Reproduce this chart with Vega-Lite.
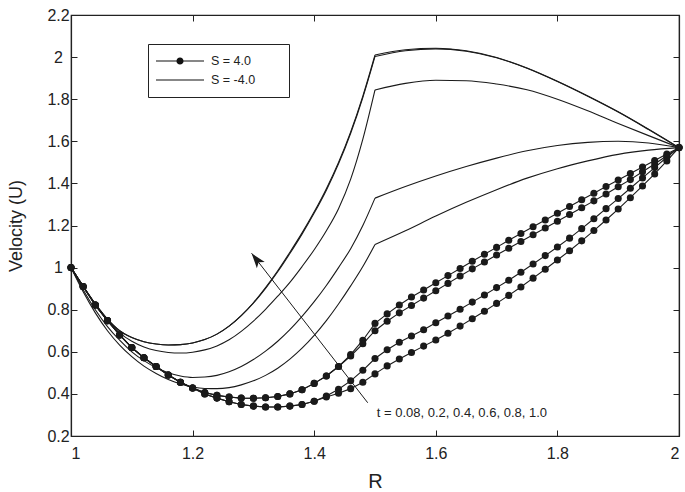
{
  "$schema": "https://vega.github.io/schema/vega-lite/v6.json",
  "width": 608,
  "height": 421,
  "autosize": {"type": "none"},
  "padding": {"left": 71, "top": 15, "right": 6, "bottom": 56},
  "background": "white",
  "config": {
    "font": "Liberation Sans",
    "view": {"stroke": "#222", "strokeWidth": 1.2},
    "axis": {"grid": false, "domainColor": "#222", "tickColor": "#222", "labelColor": "#222", "titleColor": "#222", "labelFont": "Liberation Sans", "titleFont": "Liberation Sans", "titleFontWeight": "normal", "domainWidth": 1.2, "tickWidth": 1}
  },
  "data": {"values": [
    {"s":"S = -4.0","c":"P1","g":"a","R":1.00,"U":1.0},{"s":"S = -4.0","c":"P1","g":"a","R":1.02,"U":0.912},{"s":"S = -4.0","c":"P1","g":"a","R":1.04,"U":0.828},{"s":"S = -4.0","c":"P1","g":"a","R":1.06,"U":0.755},{"s":"S = -4.0","c":"P1","g":"a","R":1.08,"U":0.70},{"s":"S = -4.0","c":"P1","g":"a","R":1.10,"U":0.668},{"s":"S = -4.0","c":"P1","g":"a","R":1.12,"U":0.648},{"s":"S = -4.0","c":"P1","g":"a","R":1.14,"U":0.637},{"s":"S = -4.0","c":"P1","g":"a","R":1.16,"U":0.632},{"s":"S = -4.0","c":"P1","g":"a","R":1.18,"U":0.634},{"s":"S = -4.0","c":"P1","g":"a","R":1.20,"U":0.642},{"s":"S = -4.0","c":"P1","g":"a","R":1.22,"U":0.658},{"s":"S = -4.0","c":"P1","g":"a","R":1.24,"U":0.684},{"s":"S = -4.0","c":"P1","g":"a","R":1.26,"U":0.722},{"s":"S = -4.0","c":"P1","g":"a","R":1.28,"U":0.772},{"s":"S = -4.0","c":"P1","g":"a","R":1.30,"U":0.833},{"s":"S = -4.0","c":"P1","g":"a","R":1.32,"U":0.905},{"s":"S = -4.0","c":"P1","g":"a","R":1.34,"U":0.985},{"s":"S = -4.0","c":"P1","g":"a","R":1.36,"U":1.073},{"s":"S = -4.0","c":"P1","g":"a","R":1.38,"U":1.165},{"s":"S = -4.0","c":"P1","g":"a","R":1.40,"U":1.265},{"s":"S = -4.0","c":"P1","g":"a","R":1.42,"U":1.375},{"s":"S = -4.0","c":"P1","g":"a","R":1.44,"U":1.50},{"s":"S = -4.0","c":"P1","g":"a","R":1.46,"U":1.645},{"s":"S = -4.0","c":"P1","g":"a","R":1.48,"U":1.815},{"s":"S = -4.0","c":"P1","g":"a","R":1.50,"U":2.01},
    {"s":"S = -4.0","c":"P1","g":"b","R":1.50,"U":2.01},{"s":"S = -4.0","c":"P1","g":"b","R":1.55,"U":2.035},{"s":"S = -4.0","c":"P1","g":"b","R":1.60,"U":2.042},{"s":"S = -4.0","c":"P1","g":"b","R":1.65,"U":2.03},{"s":"S = -4.0","c":"P1","g":"b","R":1.70,"U":1.998},{"s":"S = -4.0","c":"P1","g":"b","R":1.75,"U":1.948},{"s":"S = -4.0","c":"P1","g":"b","R":1.80,"U":1.885},{"s":"S = -4.0","c":"P1","g":"b","R":1.85,"U":1.815},{"s":"S = -4.0","c":"P1","g":"b","R":1.90,"U":1.74},{"s":"S = -4.0","c":"P1","g":"b","R":1.95,"U":1.657},{"s":"S = -4.0","c":"P1","g":"b","R":2.00,"U":1.57},

    {"s":"S = -4.0","c":"P1b","g":"a","R":1.00,"U":1.0},{"s":"S = -4.0","c":"P1b","g":"a","R":1.02,"U":0.912},{"s":"S = -4.0","c":"P1b","g":"a","R":1.04,"U":0.828},{"s":"S = -4.0","c":"P1b","g":"a","R":1.06,"U":0.755},{"s":"S = -4.0","c":"P1b","g":"a","R":1.08,"U":0.70},{"s":"S = -4.0","c":"P1b","g":"a","R":1.10,"U":0.668},{"s":"S = -4.0","c":"P1b","g":"a","R":1.12,"U":0.648},{"s":"S = -4.0","c":"P1b","g":"a","R":1.14,"U":0.637},{"s":"S = -4.0","c":"P1b","g":"a","R":1.16,"U":0.632},{"s":"S = -4.0","c":"P1b","g":"a","R":1.18,"U":0.634},{"s":"S = -4.0","c":"P1b","g":"a","R":1.20,"U":0.642},{"s":"S = -4.0","c":"P1b","g":"a","R":1.22,"U":0.658},{"s":"S = -4.0","c":"P1b","g":"a","R":1.24,"U":0.684},{"s":"S = -4.0","c":"P1b","g":"a","R":1.26,"U":0.722},{"s":"S = -4.0","c":"P1b","g":"a","R":1.28,"U":0.772},{"s":"S = -4.0","c":"P1b","g":"a","R":1.30,"U":0.831},{"s":"S = -4.0","c":"P1b","g":"a","R":1.32,"U":0.901},{"s":"S = -4.0","c":"P1b","g":"a","R":1.34,"U":0.98},{"s":"S = -4.0","c":"P1b","g":"a","R":1.36,"U":1.067},{"s":"S = -4.0","c":"P1b","g":"a","R":1.38,"U":1.159},{"s":"S = -4.0","c":"P1b","g":"a","R":1.40,"U":1.259},{"s":"S = -4.0","c":"P1b","g":"a","R":1.42,"U":1.368},{"s":"S = -4.0","c":"P1b","g":"a","R":1.44,"U":1.493},{"s":"S = -4.0","c":"P1b","g":"a","R":1.46,"U":1.638},{"s":"S = -4.0","c":"P1b","g":"a","R":1.48,"U":1.808},{"s":"S = -4.0","c":"P1b","g":"a","R":1.50,"U":2.003},
    {"s":"S = -4.0","c":"P1b","g":"b","R":1.50,"U":2.003},{"s":"S = -4.0","c":"P1b","g":"b","R":1.55,"U":2.03},{"s":"S = -4.0","c":"P1b","g":"b","R":1.60,"U":2.039},{"s":"S = -4.0","c":"P1b","g":"b","R":1.65,"U":2.028},{"s":"S = -4.0","c":"P1b","g":"b","R":1.70,"U":1.997},{"s":"S = -4.0","c":"P1b","g":"b","R":1.75,"U":1.947},{"s":"S = -4.0","c":"P1b","g":"b","R":1.80,"U":1.884},{"s":"S = -4.0","c":"P1b","g":"b","R":1.85,"U":1.814},{"s":"S = -4.0","c":"P1b","g":"b","R":1.90,"U":1.739},{"s":"S = -4.0","c":"P1b","g":"b","R":1.95,"U":1.656},{"s":"S = -4.0","c":"P1b","g":"b","R":2.00,"U":1.57},

    {"s":"S = -4.0","c":"P2","g":"a","R":1.00,"U":1.0},{"s":"S = -4.0","c":"P2","g":"a","R":1.02,"U":0.91},{"s":"S = -4.0","c":"P2","g":"a","R":1.04,"U":0.825},{"s":"S = -4.0","c":"P2","g":"a","R":1.06,"U":0.75},{"s":"S = -4.0","c":"P2","g":"a","R":1.08,"U":0.69},{"s":"S = -4.0","c":"P2","g":"a","R":1.10,"U":0.65},{"s":"S = -4.0","c":"P2","g":"a","R":1.12,"U":0.623},{"s":"S = -4.0","c":"P2","g":"a","R":1.14,"U":0.606},{"s":"S = -4.0","c":"P2","g":"a","R":1.16,"U":0.597},{"s":"S = -4.0","c":"P2","g":"a","R":1.18,"U":0.594},{"s":"S = -4.0","c":"P2","g":"a","R":1.20,"U":0.598},{"s":"S = -4.0","c":"P2","g":"a","R":1.22,"U":0.609},{"s":"S = -4.0","c":"P2","g":"a","R":1.24,"U":0.628},{"s":"S = -4.0","c":"P2","g":"a","R":1.26,"U":0.657},{"s":"S = -4.0","c":"P2","g":"a","R":1.28,"U":0.697},{"s":"S = -4.0","c":"P2","g":"a","R":1.30,"U":0.746},{"s":"S = -4.0","c":"P2","g":"a","R":1.32,"U":0.802},{"s":"S = -4.0","c":"P2","g":"a","R":1.34,"U":0.864},{"s":"S = -4.0","c":"P2","g":"a","R":1.36,"U":0.93},{"s":"S = -4.0","c":"P2","g":"a","R":1.38,"U":1.005},{"s":"S = -4.0","c":"P2","g":"a","R":1.40,"U":1.085},{"s":"S = -4.0","c":"P2","g":"a","R":1.42,"U":1.175},{"s":"S = -4.0","c":"P2","g":"a","R":1.44,"U":1.28},{"s":"S = -4.0","c":"P2","g":"a","R":1.46,"U":1.42},{"s":"S = -4.0","c":"P2","g":"a","R":1.48,"U":1.61},{"s":"S = -4.0","c":"P2","g":"a","R":1.50,"U":1.844},
    {"s":"S = -4.0","c":"P2","g":"b","R":1.50,"U":1.844},{"s":"S = -4.0","c":"P2","g":"b","R":1.55,"U":1.875},{"s":"S = -4.0","c":"P2","g":"b","R":1.60,"U":1.89},{"s":"S = -4.0","c":"P2","g":"b","R":1.65,"U":1.888},{"s":"S = -4.0","c":"P2","g":"b","R":1.70,"U":1.872},{"s":"S = -4.0","c":"P2","g":"b","R":1.75,"U":1.845},{"s":"S = -4.0","c":"P2","g":"b","R":1.80,"U":1.80},{"s":"S = -4.0","c":"P2","g":"b","R":1.85,"U":1.745},{"s":"S = -4.0","c":"P2","g":"b","R":1.90,"U":1.685},{"s":"S = -4.0","c":"P2","g":"b","R":1.95,"U":1.627},{"s":"S = -4.0","c":"P2","g":"b","R":2.00,"U":1.57},

    {"s":"S = -4.0","c":"P3","g":"a","R":1.00,"U":1.0},{"s":"S = -4.0","c":"P3","g":"a","R":1.02,"U":0.895},{"s":"S = -4.0","c":"P3","g":"a","R":1.04,"U":0.80},{"s":"S = -4.0","c":"P3","g":"a","R":1.06,"U":0.72},{"s":"S = -4.0","c":"P3","g":"a","R":1.08,"U":0.655},{"s":"S = -4.0","c":"P3","g":"a","R":1.10,"U":0.60},{"s":"S = -4.0","c":"P3","g":"a","R":1.12,"U":0.558},{"s":"S = -4.0","c":"P3","g":"a","R":1.14,"U":0.525},{"s":"S = -4.0","c":"P3","g":"a","R":1.16,"U":0.50},{"s":"S = -4.0","c":"P3","g":"a","R":1.18,"U":0.485},{"s":"S = -4.0","c":"P3","g":"a","R":1.20,"U":0.478},{"s":"S = -4.0","c":"P3","g":"a","R":1.22,"U":0.48},{"s":"S = -4.0","c":"P3","g":"a","R":1.24,"U":0.488},{"s":"S = -4.0","c":"P3","g":"a","R":1.26,"U":0.505},{"s":"S = -4.0","c":"P3","g":"a","R":1.28,"U":0.53},{"s":"S = -4.0","c":"P3","g":"a","R":1.30,"U":0.563},{"s":"S = -4.0","c":"P3","g":"a","R":1.32,"U":0.603},{"s":"S = -4.0","c":"P3","g":"a","R":1.34,"U":0.65},{"s":"S = -4.0","c":"P3","g":"a","R":1.36,"U":0.705},{"s":"S = -4.0","c":"P3","g":"a","R":1.38,"U":0.768},{"s":"S = -4.0","c":"P3","g":"a","R":1.40,"U":0.838},{"s":"S = -4.0","c":"P3","g":"a","R":1.42,"U":0.915},{"s":"S = -4.0","c":"P3","g":"a","R":1.44,"U":1.0},{"s":"S = -4.0","c":"P3","g":"a","R":1.46,"U":1.09},{"s":"S = -4.0","c":"P3","g":"a","R":1.48,"U":1.20},{"s":"S = -4.0","c":"P3","g":"a","R":1.50,"U":1.33},
    {"s":"S = -4.0","c":"P3","g":"b","R":1.50,"U":1.33},{"s":"S = -4.0","c":"P3","g":"b","R":1.55,"U":1.385},{"s":"S = -4.0","c":"P3","g":"b","R":1.60,"U":1.435},{"s":"S = -4.0","c":"P3","g":"b","R":1.65,"U":1.48},{"s":"S = -4.0","c":"P3","g":"b","R":1.70,"U":1.52},{"s":"S = -4.0","c":"P3","g":"b","R":1.75,"U":1.555},{"s":"S = -4.0","c":"P3","g":"b","R":1.80,"U":1.58},{"s":"S = -4.0","c":"P3","g":"b","R":1.85,"U":1.595},{"s":"S = -4.0","c":"P3","g":"b","R":1.90,"U":1.60},{"s":"S = -4.0","c":"P3","g":"b","R":1.95,"U":1.592},{"s":"S = -4.0","c":"P3","g":"b","R":2.00,"U":1.57},

    {"s":"S = -4.0","c":"P4","g":"a","R":1.00,"U":1.0},{"s":"S = -4.0","c":"P4","g":"a","R":1.02,"U":0.885},{"s":"S = -4.0","c":"P4","g":"a","R":1.04,"U":0.785},{"s":"S = -4.0","c":"P4","g":"a","R":1.06,"U":0.70},{"s":"S = -4.0","c":"P4","g":"a","R":1.08,"U":0.632},{"s":"S = -4.0","c":"P4","g":"a","R":1.10,"U":0.577},{"s":"S = -4.0","c":"P4","g":"a","R":1.12,"U":0.532},{"s":"S = -4.0","c":"P4","g":"a","R":1.14,"U":0.497},{"s":"S = -4.0","c":"P4","g":"a","R":1.16,"U":0.468},{"s":"S = -4.0","c":"P4","g":"a","R":1.18,"U":0.447},{"s":"S = -4.0","c":"P4","g":"a","R":1.20,"U":0.433},{"s":"S = -4.0","c":"P4","g":"a","R":1.22,"U":0.426},{"s":"S = -4.0","c":"P4","g":"a","R":1.24,"U":0.425},{"s":"S = -4.0","c":"P4","g":"a","R":1.26,"U":0.43},{"s":"S = -4.0","c":"P4","g":"a","R":1.28,"U":0.443},{"s":"S = -4.0","c":"P4","g":"a","R":1.30,"U":0.462},{"s":"S = -4.0","c":"P4","g":"a","R":1.32,"U":0.488},{"s":"S = -4.0","c":"P4","g":"a","R":1.34,"U":0.522},{"s":"S = -4.0","c":"P4","g":"a","R":1.36,"U":0.565},{"s":"S = -4.0","c":"P4","g":"a","R":1.38,"U":0.617},{"s":"S = -4.0","c":"P4","g":"a","R":1.40,"U":0.678},{"s":"S = -4.0","c":"P4","g":"a","R":1.42,"U":0.748},{"s":"S = -4.0","c":"P4","g":"a","R":1.44,"U":0.827},{"s":"S = -4.0","c":"P4","g":"a","R":1.46,"U":0.913},{"s":"S = -4.0","c":"P4","g":"a","R":1.48,"U":1.005},{"s":"S = -4.0","c":"P4","g":"a","R":1.50,"U":1.11},
    {"s":"S = -4.0","c":"P4","g":"b","R":1.50,"U":1.11},{"s":"S = -4.0","c":"P4","g":"b","R":1.55,"U":1.175},{"s":"S = -4.0","c":"P4","g":"b","R":1.60,"U":1.245},{"s":"S = -4.0","c":"P4","g":"b","R":1.65,"U":1.31},{"s":"S = -4.0","c":"P4","g":"b","R":1.70,"U":1.37},{"s":"S = -4.0","c":"P4","g":"b","R":1.75,"U":1.425},{"s":"S = -4.0","c":"P4","g":"b","R":1.80,"U":1.47},{"s":"S = -4.0","c":"P4","g":"b","R":1.85,"U":1.507},{"s":"S = -4.0","c":"P4","g":"b","R":1.90,"U":1.538},{"s":"S = -4.0","c":"P4","g":"b","R":1.95,"U":1.558},{"s":"S = -4.0","c":"P4","g":"b","R":2.00,"U":1.57},

    {"s":"S = 4.0","c":"D1","g":"a","R":1.00,"U":1.0},{"s":"S = 4.0","c":"D1","g":"a","R":1.02,"U":0.91},{"s":"S = 4.0","c":"D1","g":"a","R":1.04,"U":0.822},{"s":"S = 4.0","c":"D1","g":"a","R":1.06,"U":0.748},{"s":"S = 4.0","c":"D1","g":"a","R":1.08,"U":0.68},{"s":"S = 4.0","c":"D1","g":"a","R":1.10,"U":0.62},{"s":"S = 4.0","c":"D1","g":"a","R":1.12,"U":0.572},{"s":"S = 4.0","c":"D1","g":"a","R":1.14,"U":0.53},{"s":"S = 4.0","c":"D1","g":"a","R":1.16,"U":0.49},{"s":"S = 4.0","c":"D1","g":"a","R":1.18,"U":0.455},{"s":"S = 4.0","c":"D1","g":"a","R":1.20,"U":0.428},{"s":"S = 4.0","c":"D1","g":"a","R":1.22,"U":0.407},{"s":"S = 4.0","c":"D1","g":"a","R":1.24,"U":0.393},{"s":"S = 4.0","c":"D1","g":"a","R":1.26,"U":0.385},{"s":"S = 4.0","c":"D1","g":"a","R":1.28,"U":0.38},{"s":"S = 4.0","c":"D1","g":"a","R":1.30,"U":0.379},{"s":"S = 4.0","c":"D1","g":"a","R":1.32,"U":0.382},{"s":"S = 4.0","c":"D1","g":"a","R":1.34,"U":0.388},{"s":"S = 4.0","c":"D1","g":"a","R":1.36,"U":0.40},{"s":"S = 4.0","c":"D1","g":"a","R":1.38,"U":0.42},{"s":"S = 4.0","c":"D1","g":"a","R":1.40,"U":0.45},{"s":"S = 4.0","c":"D1","g":"a","R":1.42,"U":0.485},{"s":"S = 4.0","c":"D1","g":"a","R":1.44,"U":0.53},{"s":"S = 4.0","c":"D1","g":"a","R":1.46,"U":0.587},{"s":"S = 4.0","c":"D1","g":"a","R":1.48,"U":0.655},{"s":"S = 4.0","c":"D1","g":"a","R":1.50,"U":0.735},{"s":"S = 4.0","c":"D1","g":"a","R":1.52,"U":0.78},{"s":"S = 4.0","c":"D1","g":"a","R":1.54,"U":0.822},{"s":"S = 4.0","c":"D1","g":"a","R":1.56,"U":0.86},{"s":"S = 4.0","c":"D1","g":"a","R":1.58,"U":0.894},{"s":"S = 4.0","c":"D1","g":"a","R":1.60,"U":0.928},{"s":"S = 4.0","c":"D1","g":"a","R":1.62,"U":0.962},{"s":"S = 4.0","c":"D1","g":"a","R":1.64,"U":0.996},{"s":"S = 4.0","c":"D1","g":"a","R":1.66,"U":1.03},{"s":"S = 4.0","c":"D1","g":"a","R":1.68,"U":1.063},{"s":"S = 4.0","c":"D1","g":"a","R":1.70,"U":1.096},{"s":"S = 4.0","c":"D1","g":"a","R":1.72,"U":1.13},{"s":"S = 4.0","c":"D1","g":"a","R":1.74,"U":1.162},{"s":"S = 4.0","c":"D1","g":"a","R":1.76,"U":1.194},{"s":"S = 4.0","c":"D1","g":"a","R":1.78,"U":1.226},{"s":"S = 4.0","c":"D1","g":"a","R":1.80,"U":1.258},{"s":"S = 4.0","c":"D1","g":"a","R":1.82,"U":1.29},{"s":"S = 4.0","c":"D1","g":"a","R":1.84,"U":1.322},{"s":"S = 4.0","c":"D1","g":"a","R":1.86,"U":1.353},{"s":"S = 4.0","c":"D1","g":"a","R":1.88,"U":1.385},{"s":"S = 4.0","c":"D1","g":"a","R":1.90,"U":1.416},{"s":"S = 4.0","c":"D1","g":"a","R":1.92,"U":1.447},{"s":"S = 4.0","c":"D1","g":"a","R":1.94,"U":1.478},{"s":"S = 4.0","c":"D1","g":"a","R":1.96,"U":1.509},{"s":"S = 4.0","c":"D1","g":"a","R":1.98,"U":1.54},{"s":"S = 4.0","c":"D1","g":"a","R":2.00,"U":1.57},

    {"s":"S = 4.0","c":"D2","g":"a","R":1.00,"U":1.0},{"s":"S = 4.0","c":"D2","g":"a","R":1.02,"U":0.91},{"s":"S = 4.0","c":"D2","g":"a","R":1.04,"U":0.822},{"s":"S = 4.0","c":"D2","g":"a","R":1.06,"U":0.748},{"s":"S = 4.0","c":"D2","g":"a","R":1.08,"U":0.68},{"s":"S = 4.0","c":"D2","g":"a","R":1.10,"U":0.62},{"s":"S = 4.0","c":"D2","g":"a","R":1.12,"U":0.572},{"s":"S = 4.0","c":"D2","g":"a","R":1.14,"U":0.53},{"s":"S = 4.0","c":"D2","g":"a","R":1.16,"U":0.49},{"s":"S = 4.0","c":"D2","g":"a","R":1.18,"U":0.455},{"s":"S = 4.0","c":"D2","g":"a","R":1.20,"U":0.428},{"s":"S = 4.0","c":"D2","g":"a","R":1.22,"U":0.407},{"s":"S = 4.0","c":"D2","g":"a","R":1.24,"U":0.393},{"s":"S = 4.0","c":"D2","g":"a","R":1.26,"U":0.385},{"s":"S = 4.0","c":"D2","g":"a","R":1.28,"U":0.38},{"s":"S = 4.0","c":"D2","g":"a","R":1.30,"U":0.379},{"s":"S = 4.0","c":"D2","g":"a","R":1.32,"U":0.382},{"s":"S = 4.0","c":"D2","g":"a","R":1.34,"U":0.388},{"s":"S = 4.0","c":"D2","g":"a","R":1.36,"U":0.40},{"s":"S = 4.0","c":"D2","g":"a","R":1.38,"U":0.42},{"s":"S = 4.0","c":"D2","g":"a","R":1.40,"U":0.45},{"s":"S = 4.0","c":"D2","g":"a","R":1.42,"U":0.485},{"s":"S = 4.0","c":"D2","g":"a","R":1.44,"U":0.53},{"s":"S = 4.0","c":"D2","g":"a","R":1.46,"U":0.58},{"s":"S = 4.0","c":"D2","g":"a","R":1.48,"U":0.638},{"s":"S = 4.0","c":"D2","g":"a","R":1.50,"U":0.70},{"s":"S = 4.0","c":"D2","g":"a","R":1.52,"U":0.745},{"s":"S = 4.0","c":"D2","g":"a","R":1.54,"U":0.785},{"s":"S = 4.0","c":"D2","g":"a","R":1.56,"U":0.82},{"s":"S = 4.0","c":"D2","g":"a","R":1.58,"U":0.855},{"s":"S = 4.0","c":"D2","g":"a","R":1.60,"U":0.89},{"s":"S = 4.0","c":"D2","g":"a","R":1.62,"U":0.925},{"s":"S = 4.0","c":"D2","g":"a","R":1.64,"U":0.96},{"s":"S = 4.0","c":"D2","g":"a","R":1.66,"U":0.994},{"s":"S = 4.0","c":"D2","g":"a","R":1.68,"U":1.027},{"s":"S = 4.0","c":"D2","g":"a","R":1.70,"U":1.06},{"s":"S = 4.0","c":"D2","g":"a","R":1.72,"U":1.092},{"s":"S = 4.0","c":"D2","g":"a","R":1.74,"U":1.124},{"s":"S = 4.0","c":"D2","g":"a","R":1.76,"U":1.156},{"s":"S = 4.0","c":"D2","g":"a","R":1.78,"U":1.188},{"s":"S = 4.0","c":"D2","g":"a","R":1.80,"U":1.22},{"s":"S = 4.0","c":"D2","g":"a","R":1.82,"U":1.252},{"s":"S = 4.0","c":"D2","g":"a","R":1.84,"U":1.284},{"s":"S = 4.0","c":"D2","g":"a","R":1.86,"U":1.317},{"s":"S = 4.0","c":"D2","g":"a","R":1.88,"U":1.35},{"s":"S = 4.0","c":"D2","g":"a","R":1.90,"U":1.384},{"s":"S = 4.0","c":"D2","g":"a","R":1.92,"U":1.418},{"s":"S = 4.0","c":"D2","g":"a","R":1.94,"U":1.455},{"s":"S = 4.0","c":"D2","g":"a","R":1.96,"U":1.492},{"s":"S = 4.0","c":"D2","g":"a","R":1.98,"U":1.531},{"s":"S = 4.0","c":"D2","g":"a","R":2.00,"U":1.57},

    {"s":"S = 4.0","c":"D3","g":"a","R":1.00,"U":1.0},{"s":"S = 4.0","c":"D3","g":"a","R":1.02,"U":0.91},{"s":"S = 4.0","c":"D3","g":"a","R":1.04,"U":0.822},{"s":"S = 4.0","c":"D3","g":"a","R":1.06,"U":0.748},{"s":"S = 4.0","c":"D3","g":"a","R":1.08,"U":0.68},{"s":"S = 4.0","c":"D3","g":"a","R":1.10,"U":0.62},{"s":"S = 4.0","c":"D3","g":"a","R":1.12,"U":0.572},{"s":"S = 4.0","c":"D3","g":"a","R":1.14,"U":0.53},{"s":"S = 4.0","c":"D3","g":"a","R":1.16,"U":0.49},{"s":"S = 4.0","c":"D3","g":"a","R":1.18,"U":0.455},{"s":"S = 4.0","c":"D3","g":"a","R":1.20,"U":0.428},{"s":"S = 4.0","c":"D3","g":"a","R":1.22,"U":0.40},{"s":"S = 4.0","c":"D3","g":"a","R":1.24,"U":0.38},{"s":"S = 4.0","c":"D3","g":"a","R":1.26,"U":0.363},{"s":"S = 4.0","c":"D3","g":"a","R":1.28,"U":0.35},{"s":"S = 4.0","c":"D3","g":"a","R":1.30,"U":0.342},{"s":"S = 4.0","c":"D3","g":"a","R":1.32,"U":0.338},{"s":"S = 4.0","c":"D3","g":"a","R":1.34,"U":0.338},{"s":"S = 4.0","c":"D3","g":"a","R":1.36,"U":0.342},{"s":"S = 4.0","c":"D3","g":"a","R":1.38,"U":0.35},{"s":"S = 4.0","c":"D3","g":"a","R":1.40,"U":0.365},{"s":"S = 4.0","c":"D3","g":"a","R":1.42,"U":0.39},{"s":"S = 4.0","c":"D3","g":"a","R":1.44,"U":0.422},{"s":"S = 4.0","c":"D3","g":"a","R":1.46,"U":0.462},{"s":"S = 4.0","c":"D3","g":"a","R":1.48,"U":0.512},{"s":"S = 4.0","c":"D3","g":"a","R":1.50,"U":0.568},{"s":"S = 4.0","c":"D3","g":"a","R":1.52,"U":0.61},{"s":"S = 4.0","c":"D3","g":"a","R":1.54,"U":0.645},{"s":"S = 4.0","c":"D3","g":"a","R":1.56,"U":0.675},{"s":"S = 4.0","c":"D3","g":"a","R":1.58,"U":0.705},{"s":"S = 4.0","c":"D3","g":"a","R":1.60,"U":0.738},{"s":"S = 4.0","c":"D3","g":"a","R":1.62,"U":0.77},{"s":"S = 4.0","c":"D3","g":"a","R":1.64,"U":0.802},{"s":"S = 4.0","c":"D3","g":"a","R":1.66,"U":0.836},{"s":"S = 4.0","c":"D3","g":"a","R":1.68,"U":0.87},{"s":"S = 4.0","c":"D3","g":"a","R":1.70,"U":0.905},{"s":"S = 4.0","c":"D3","g":"a","R":1.72,"U":0.94},{"s":"S = 4.0","c":"D3","g":"a","R":1.74,"U":0.978},{"s":"S = 4.0","c":"D3","g":"a","R":1.76,"U":1.017},{"s":"S = 4.0","c":"D3","g":"a","R":1.78,"U":1.057},{"s":"S = 4.0","c":"D3","g":"a","R":1.80,"U":1.098},{"s":"S = 4.0","c":"D3","g":"a","R":1.82,"U":1.14},{"s":"S = 4.0","c":"D3","g":"a","R":1.84,"U":1.185},{"s":"S = 4.0","c":"D3","g":"a","R":1.86,"U":1.232},{"s":"S = 4.0","c":"D3","g":"a","R":1.88,"U":1.28},{"s":"S = 4.0","c":"D3","g":"a","R":1.90,"U":1.328},{"s":"S = 4.0","c":"D3","g":"a","R":1.92,"U":1.377},{"s":"S = 4.0","c":"D3","g":"a","R":1.94,"U":1.426},{"s":"S = 4.0","c":"D3","g":"a","R":1.96,"U":1.475},{"s":"S = 4.0","c":"D3","g":"a","R":1.98,"U":1.524},{"s":"S = 4.0","c":"D3","g":"a","R":2.00,"U":1.57},

    {"s":"S = 4.0","c":"D4","g":"a","R":1.00,"U":1.0},{"s":"S = 4.0","c":"D4","g":"a","R":1.02,"U":0.91},{"s":"S = 4.0","c":"D4","g":"a","R":1.04,"U":0.822},{"s":"S = 4.0","c":"D4","g":"a","R":1.06,"U":0.748},{"s":"S = 4.0","c":"D4","g":"a","R":1.08,"U":0.68},{"s":"S = 4.0","c":"D4","g":"a","R":1.10,"U":0.62},{"s":"S = 4.0","c":"D4","g":"a","R":1.12,"U":0.572},{"s":"S = 4.0","c":"D4","g":"a","R":1.14,"U":0.53},{"s":"S = 4.0","c":"D4","g":"a","R":1.16,"U":0.49},{"s":"S = 4.0","c":"D4","g":"a","R":1.18,"U":0.455},{"s":"S = 4.0","c":"D4","g":"a","R":1.20,"U":0.428},{"s":"S = 4.0","c":"D4","g":"a","R":1.22,"U":0.40},{"s":"S = 4.0","c":"D4","g":"a","R":1.24,"U":0.38},{"s":"S = 4.0","c":"D4","g":"a","R":1.26,"U":0.363},{"s":"S = 4.0","c":"D4","g":"a","R":1.28,"U":0.35},{"s":"S = 4.0","c":"D4","g":"a","R":1.30,"U":0.342},{"s":"S = 4.0","c":"D4","g":"a","R":1.32,"U":0.338},{"s":"S = 4.0","c":"D4","g":"a","R":1.34,"U":0.338},{"s":"S = 4.0","c":"D4","g":"a","R":1.36,"U":0.342},{"s":"S = 4.0","c":"D4","g":"a","R":1.38,"U":0.35},{"s":"S = 4.0","c":"D4","g":"a","R":1.40,"U":0.365},{"s":"S = 4.0","c":"D4","g":"a","R":1.42,"U":0.385},{"s":"S = 4.0","c":"D4","g":"a","R":1.44,"U":0.403},{"s":"S = 4.0","c":"D4","g":"a","R":1.46,"U":0.425},{"s":"S = 4.0","c":"D4","g":"a","R":1.48,"U":0.455},{"s":"S = 4.0","c":"D4","g":"a","R":1.50,"U":0.495},{"s":"S = 4.0","c":"D4","g":"a","R":1.52,"U":0.533},{"s":"S = 4.0","c":"D4","g":"a","R":1.54,"U":0.566},{"s":"S = 4.0","c":"D4","g":"a","R":1.56,"U":0.597},{"s":"S = 4.0","c":"D4","g":"a","R":1.58,"U":0.627},{"s":"S = 4.0","c":"D4","g":"a","R":1.60,"U":0.656},{"s":"S = 4.0","c":"D4","g":"a","R":1.62,"U":0.688},{"s":"S = 4.0","c":"D4","g":"a","R":1.64,"U":0.722},{"s":"S = 4.0","c":"D4","g":"a","R":1.66,"U":0.757},{"s":"S = 4.0","c":"D4","g":"a","R":1.68,"U":0.793},{"s":"S = 4.0","c":"D4","g":"a","R":1.70,"U":0.83},{"s":"S = 4.0","c":"D4","g":"a","R":1.72,"U":0.868},{"s":"S = 4.0","c":"D4","g":"a","R":1.74,"U":0.908},{"s":"S = 4.0","c":"D4","g":"a","R":1.76,"U":0.95},{"s":"S = 4.0","c":"D4","g":"a","R":1.78,"U":0.992},{"s":"S = 4.0","c":"D4","g":"a","R":1.80,"U":1.036},{"s":"S = 4.0","c":"D4","g":"a","R":1.82,"U":1.08},{"s":"S = 4.0","c":"D4","g":"a","R":1.84,"U":1.127},{"s":"S = 4.0","c":"D4","g":"a","R":1.86,"U":1.176},{"s":"S = 4.0","c":"D4","g":"a","R":1.88,"U":1.226},{"s":"S = 4.0","c":"D4","g":"a","R":1.90,"U":1.278},{"s":"S = 4.0","c":"D4","g":"a","R":1.92,"U":1.332},{"s":"S = 4.0","c":"D4","g":"a","R":1.94,"U":1.388},{"s":"S = 4.0","c":"D4","g":"a","R":1.96,"U":1.445},{"s":"S = 4.0","c":"D4","g":"a","R":1.98,"U":1.507},{"s":"S = 4.0","c":"D4","g":"a","R":2.00,"U":1.57}
  ]},
  "resolve": {"axis": {"x": "independent", "y": "independent"}},
  "layer": [
    {
      "transform": [{"filter": "datum.s == 'S = -4.0'"}],
      "mark": {"type": "line", "interpolate": "monotone", "color": "#1a1a1a", "strokeWidth": 1.1},
      "encoding": {
        "x": {"field": "R", "type": "quantitative", "scale": {"domain": [1, 2], "nice": false, "zero": false},
          "axis": {"orient": "bottom", "values": [1, 1.2, 1.4, 1.6, 1.8, 2], "format": "~g", "tickSize": -6, "labelPadding": 28, "labelBaseline": "alphabetic", "labelFontSize": 16, "title": "R", "titleFontSize": 20, "titlePadding": 10}},
        "y": {"field": "U", "type": "quantitative", "scale": {"domain": [0.2, 2.2], "nice": false, "zero": false},
          "axis": {"orient": "left", "values": [0.2, 0.4, 0.6, 0.8, 1, 1.2, 1.4, 1.6, 1.8, 2, 2.2], "format": "~g", "tickSize": -6, "labelPadding": 19, "labelAlign": "center", "labelFontSize": 16, "title": "Velocity (U)", "titleFontSize": 18, "titlePadding": 21}},
        "detail": [{"field": "c"}, {"field": "g"}]
      }
    },
    {
      "transform": [{"filter": "datum.s == 'S = 4.0'"}],
      "mark": {"type": "line", "color": "#1a1a1a", "strokeWidth": 1.1},
      "encoding": {
        "x": {"field": "R", "type": "quantitative", "axis": null},
        "y": {"field": "U", "type": "quantitative", "axis": null},
        "detail": {"field": "c"}
      }
    },
    {
      "transform": [{"filter": "datum.s == 'S = 4.0'"}],
      "mark": {"type": "point", "shape": "circle", "filled": true, "color": "#1a1a1a", "opacity": 1, "size": 50},
      "encoding": {
        "x": {"field": "R", "type": "quantitative", "axis": null},
        "y": {"field": "U", "type": "quantitative", "axis": null}
      }
    },
    {
      "data": {"values": [{"R": 1.488, "U": 0.358, "R2": 1.297, "U2": 1.068}]},
      "mark": {"type": "rule", "color": "#1a1a1a", "strokeWidth": 1},
      "encoding": {
        "x": {"field": "R", "type": "quantitative", "axis": null},
        "y": {"field": "U", "type": "quantitative", "axis": null},
        "x2": {"field": "R2"},
        "y2": {"field": "U2"}
      }
    },
    {
      "data": {"values": [{"R": 1.488, "U": 0.358, "R2": 1.297, "U2": 1.068}]},
      "mark": {"type": "point", "shape": "M0,0L1,3L0,2.3L-1,3Z", "filled": true, "color": "#1a1a1a", "opacity": 1, "size": 100, "angle": 322},
      "encoding": {
        "x": {"field": "R2", "type": "quantitative", "axis": null},
        "y": {"field": "U2", "type": "quantitative", "axis": null}
      }
    },
    {
      "data": {"values": [{"R": 1.503, "U": 0.31, "label": "t = 0.08, 0.2, 0.4, 0.6, 0.8, 1.0"}]},
      "mark": {"type": "text", "align": "left", "baseline": "middle", "fontSize": 13, "font": "Liberation Sans", "color": "#222"},
      "encoding": {
        "x": {"field": "R", "type": "quantitative", "axis": null},
        "y": {"field": "U", "type": "quantitative", "axis": null},
        "text": {"field": "label"}
      }
    },
    {
      "transform": [{"filter": "datum.R == 2"}],
      "mark": {"type": "point", "filled": true, "opacity": 0, "color": "#111"},
      "encoding": {
        "x": {"field": "R", "type": "quantitative",
          "axis": {"orient": "top", "values": [1, 1.2, 1.4, 1.6, 1.8, 2], "labels": false, "tickSize": -6, "title": null}},
        "y": {"field": "U", "type": "quantitative",
          "axis": {"orient": "right", "values": [0.2, 0.4, 0.6, 0.8, 1, 1.2, 1.4, 1.6, 1.8, 2, 2.2], "labels": false, "tickSize": -6, "title": null}},
        "shape": {"field": "s", "type": "nominal",
          "scale": {"domain": ["S = 4.0", "S = -4.0"], "range": ["M-3.43,-0.075L3.43,-0.075L3.43,0.075L-3.43,0.075Z M-0.51,0A0.51,0.51 0 1 1 0.51,0A0.51,0.51 0 1 1 -0.51,0Z", "M-3.43,-0.075L3.43,-0.075L3.43,0.075L-3.43,0.075Z"]},
          "legend": {"title": " ", "titleOrient": "right", "titlePadding": 24, "orient": "none", "legendX": 77, "legendY": 29, "strokeColor": "#222", "fillColor": "white", "padding": 10, "symbolSize": 196, "symbolOffset": 15, "labelOffset": 24, "rowPadding": 5, "labelFontSize": 12.5, "labelFont": "Liberation Sans", "labelColor": "#222", "symbolStrokeWidth": 0, "symbolFillColor": "#111", "symbolStrokeColor": "#111", "symbolOpacity": 1,
            "encode": {"symbols": {"update": {"opacity": {"value": 1}, "fillOpacity": {"value": 1}, "fill": {"value": "#111"}, "strokeWidth": {"value": 0}}}}}
        }
      }
    }
  ]
}
